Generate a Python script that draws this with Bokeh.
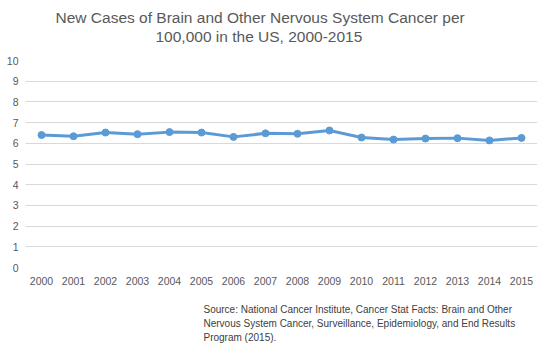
from bokeh.plotting import figure
from bokeh.models import Title, FixedTicker, Range1d
from bokeh.embed import file_html
from bokeh.resources import INLINE

years = [str(y) for y in range(2000, 2016)]
rates = [6.40, 6.34, 6.52, 6.44, 6.54, 6.52, 6.31, 6.48, 6.46, 6.62, 6.28, 6.18, 6.23, 6.25, 6.14, 6.26]
y_ticks = list(range(0, 11))

title_lines = ["New Cases of Brain and Other Nervous System Cancer per",
               "100,000 in the US, 2000-2015"]
source_lines = ["Source: National Cancer Institute, Cancer Stat Facts: Brain and Other",
                "Nervous System Cancer, Surveillance, Epidemiology, and End Results",
                "Program (2015)."]

FONT = "Liberation Sans"

p = figure(width=550, height=354, x_range=years, y_range=Range1d(0, 10),
           output_backend="svg", toolbar_location=None,
           min_border_left=25, min_border_right=13, min_border_top=60, min_border_bottom=87)
p.x_range.range_padding = 0
p.outline_line_color = None
p.background_fill_color = "white"
p.border_fill_color = "white"

p.xgrid.grid_line_color = None
p.ygrid.grid_line_color = "#D9D9D9"
p.ygrid.grid_line_width = 1

p.yaxis.ticker = FixedTicker(ticks=y_ticks)
for ax in (p.xaxis[0], p.yaxis[0]):
    ax.axis_line_color = None
    ax.major_tick_line_color = None
    ax.minor_tick_line_color = None
    ax.major_tick_out = 0
    ax.major_tick_in = 0
    ax.major_label_text_font = FONT
    ax.major_label_text_font_size = "10.5px"
    ax.major_label_text_color = "#595959"
p.xaxis.major_label_standoff = 9
p.yaxis.major_label_standoff = 7

p.line(years, rates, line_color="#5B9BD5", line_width=3)
p.scatter(years, rates, size=7, fill_color="#5B9BD5", line_color="#5B9BD5")


def make_title(text, offset, standoff, size, color):
    return Title(text=text, align="left", offset=offset, standoff=standoff,
                 text_font=FONT, text_font_size=size, text_color=color,
                 text_font_style="normal")


# title: second line added first (closest to plot)
p.add_layout(make_title(title_lines[1], 130, 31, "15.5px", "#595959"), "above")
p.add_layout(make_title(title_lines[0], 30, -31, "15.5px", "#595959"), "above")

# spacer, then source lines
p.add_layout(make_title(" ", 178, 10.6, "1px", "#404040"), "below")
for t in source_lines:
    p.add_layout(make_title(t, 178, 1.2, "10px", "#404040"), "below")

open("out.html", "w").write(file_html(p, INLINE))
